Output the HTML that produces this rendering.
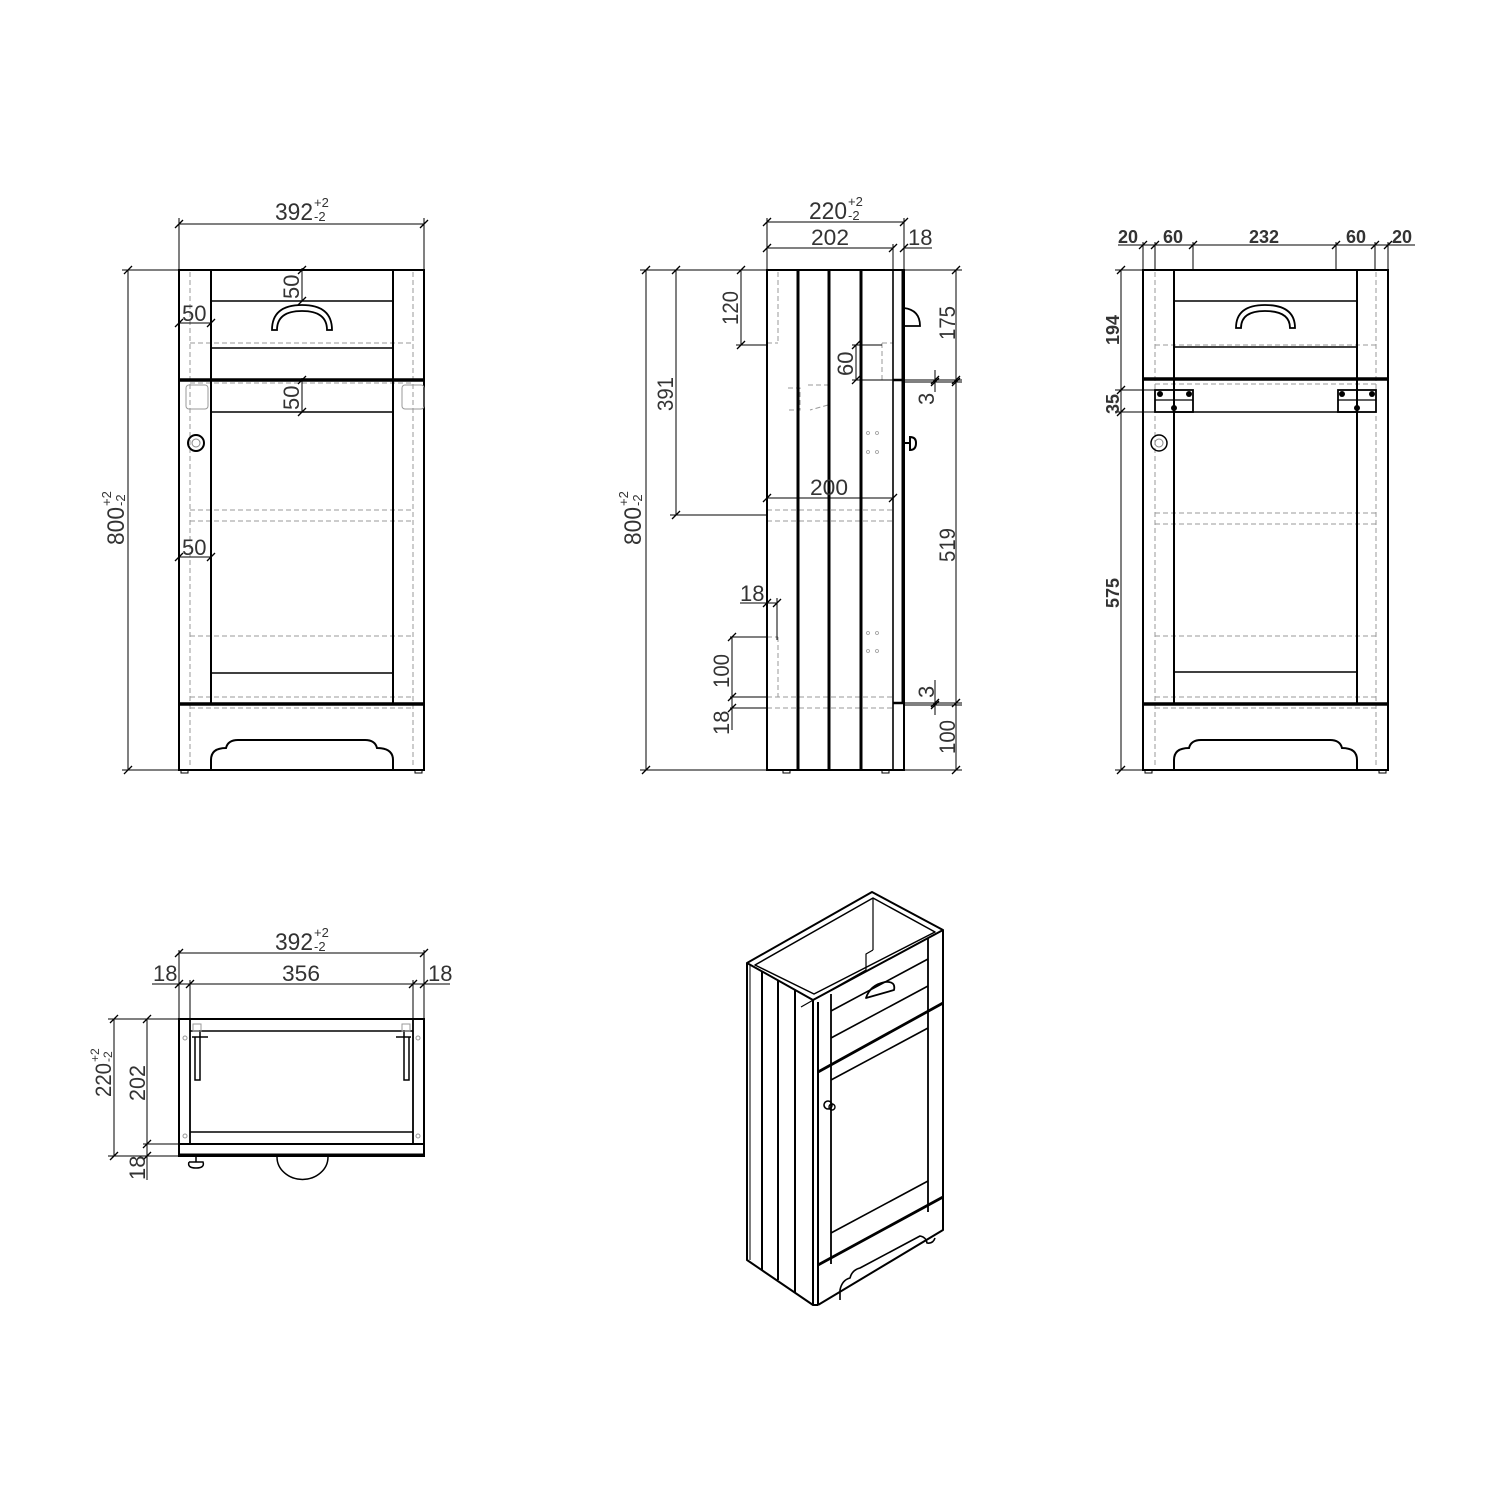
<!DOCTYPE html>
<html><head><meta charset="utf-8"><style>
html,body{margin:0;padding:0;background:#fff;}
svg{display:block;}
text{font-family:"Liberation Sans",sans-serif;fill:#333;}
</style></head><body>
<svg width="1500" height="1500" viewBox="0 0 1500 1500" xmlns="http://www.w3.org/2000/svg">
<defs>
<path id="t" d="M-4,4 L4,-4" stroke="#000" stroke-width="1.3"/>
</defs>
<rect width="1500" height="1500" fill="#fff"/>

<!-- ============ FRONT VIEW ============ -->
<g fill="none" stroke="#000">
  <g stroke="#999" stroke-width="1" stroke-dasharray="5,3">
    <line x1="190" y1="272" x2="190" y2="768"/><line x1="413" y1="272" x2="413" y2="768"/>
    <line x1="190" y1="343" x2="413" y2="343"/><line x1="190" y1="383" x2="413" y2="383"/>
    <line x1="190" y1="510" x2="413" y2="510"/><line x1="190" y1="521" x2="413" y2="521"/>
    <line x1="190" y1="636" x2="413" y2="636"/><line x1="190" y1="697" x2="413" y2="697"/>
    <line x1="190" y1="708" x2="413" y2="708"/>
  </g>
  <rect x="179" y="270" width="245" height="500" stroke-width="2"/>
  <line x1="211" y1="270" x2="211" y2="703" stroke-width="2"/>
  <line x1="393" y1="270" x2="393" y2="703" stroke-width="2"/>
  <line x1="211" y1="301" x2="393" y2="301" stroke-width="1.6"/>
  <line x1="211" y1="348" x2="393" y2="348" stroke-width="1.6"/>
  <line x1="179" y1="380" x2="424" y2="380" stroke-width="3.5"/>
  <line x1="211" y1="412" x2="393" y2="412" stroke-width="1.6"/>
  <line x1="211" y1="673" x2="393" y2="673" stroke-width="1.6"/>
  <line x1="179" y1="704" x2="424" y2="704" stroke-width="3.5"/>
  <path d="M211,770 L211,760 Q211,748 226,748 Q228,740 238,740 L365,740 Q375,740 377,748 Q393,748 393,760 L393,770" stroke-width="2"/>
  <rect x="181" y="770" width="7" height="3" stroke-width="1"/><rect x="415" y="770" width="7" height="3" stroke-width="1"/>
  <path d="M272,330 Q272,305 302,305 Q332,305 332,330 L327,330 Q327,311 302,311 Q277,311 277,330 Z" stroke-width="1.8"/>
  <circle cx="196" cy="443" r="8" stroke-width="2"/><circle cx="196" cy="443" r="4" stroke="#888" stroke-width="1"/>
  <g stroke="#999" stroke-width="1"><rect x="186" y="385" width="22" height="24" rx="3"/><rect x="402" y="385" width="22" height="24" rx="3"/></g>
  <!-- dims -->
  <g stroke-width="1">
    <line x1="179" y1="218" x2="179" y2="270"/><line x1="424" y1="218" x2="424" y2="270"/>
    <line x1="179" y1="224" x2="424" y2="224"/>
    <line x1="122" y1="270" x2="179" y2="270"/><line x1="122" y1="770" x2="179" y2="770"/>
    <line x1="128" y1="270" x2="128" y2="770"/>
    <line x1="302" y1="268" x2="302" y2="301"/><line x1="302" y1="378" x2="302" y2="412"/>
    <line x1="179" y1="323" x2="211" y2="323"/><line x1="179" y1="557" x2="211" y2="557"/>
  </g>
</g>
<g>
  <use href="#t" x="179" y="224"/><use href="#t" x="424" y="224"/>
  <use href="#t" x="128" y="270"/><use href="#t" x="128" y="770"/>
  <use href="#t" x="302" y="270"/><use href="#t" x="302" y="301"/>
  <use href="#t" x="302" y="380"/><use href="#t" x="302" y="412"/>
  <use href="#t" x="179" y="323"/><use href="#t" x="211" y="323"/>
  <use href="#t" x="179" y="557"/><use href="#t" x="211" y="557"/>
</g>
<text x="275" y="220" font-size="24" textLength="38" lengthAdjust="spacingAndGlyphs">392</text>
<text x="314" y="207" font-size="13">+2</text><text x="314" y="221" font-size="13">-2</text>
<g transform="translate(124,545) rotate(-90)"><text x="0" y="0" font-size="24" textLength="38" lengthAdjust="spacingAndGlyphs">800</text><text x="39" y="-13" font-size="13">+2</text><text x="39" y="1" font-size="13">-2</text></g>
<text transform="translate(299,299) rotate(-90)" font-size="22">50</text>
<text transform="translate(299,410) rotate(-90)" font-size="22">50</text>
<text x="182" y="321" font-size="22">50</text>
<text x="182" y="555" font-size="22">50</text>

<!-- ============ SIDE VIEW ============ -->
<g fill="none" stroke="#000">
  <g stroke="#999" stroke-width="1" stroke-dasharray="5,3">
    <line x1="778" y1="272" x2="778" y2="343"/><line x1="767" y1="343" x2="778" y2="343"/>
    <line x1="882" y1="343" x2="893" y2="343"/><line x1="882" y1="343" x2="882" y2="380"/>
    <line x1="767" y1="510" x2="893" y2="510"/><line x1="767" y1="521" x2="893" y2="521"/>
    <line x1="778" y1="637" x2="778" y2="697"/><line x1="767" y1="637" x2="778" y2="637"/>
    <line x1="767" y1="697" x2="893" y2="697"/><line x1="767" y1="708" x2="893" y2="708"/>
    <path d="M788,388 L800,388 L800,410 L788,410 M808,385 L828,385 L828,405 L810,410"/>
  </g>
  <rect x="767" y="270" width="137" height="500" stroke-width="2"/>
  <g stroke-width="3"><line x1="798" y1="270" x2="798" y2="770"/><line x1="829" y1="270" x2="829" y2="770"/><line x1="861" y1="270" x2="861" y2="770"/></g>
  <line x1="893" y1="270" x2="893" y2="770" stroke-width="1.6"/>
  <line x1="903" y1="270" x2="903" y2="703" stroke-width="3"/>
  <line x1="893" y1="380" x2="904" y2="380" stroke-width="2.5"/>
  <line x1="893" y1="703" x2="904" y2="703" stroke-width="2.5"/>
  <path d="M904,308 Q920,310 920,326 L904,326" stroke-width="1.8"/>
  <path d="M904,443 L910,443 M910,437 Q916,437 916,443 Q916,450 910,450 Z" stroke-width="2"/>
  <g stroke="#999" stroke-width="0.8"><circle cx="868" cy="433" r="1.5"/><circle cx="877" cy="433" r="1.5"/><circle cx="868" cy="452" r="1.5"/><circle cx="877" cy="452" r="1.5"/><circle cx="868" cy="633" r="1.5"/><circle cx="877" cy="633" r="1.5"/><circle cx="868" cy="651" r="1.5"/><circle cx="877" cy="651" r="1.5"/></g>
  <rect x="783" y="770" width="7" height="3" stroke-width="1"/><rect x="882" y="770" width="7" height="3" stroke-width="1"/>
  <g stroke-width="1">
    <line x1="767" y1="218" x2="767" y2="270"/><line x1="904" y1="218" x2="904" y2="270"/><line x1="893" y1="244" x2="893" y2="270"/>
    <line x1="767" y1="222" x2="904" y2="222"/>
    <line x1="767" y1="248" x2="893" y2="248"/><line x1="904" y1="248" x2="932" y2="248"/>
    <line x1="640" y1="270" x2="767" y2="270"/><line x1="640" y1="770" x2="767" y2="770"/>
    <line x1="646" y1="270" x2="646" y2="770"/>
    <line x1="676" y1="270" x2="676" y2="515"/><line x1="670" y1="515" x2="767" y2="515"/>
    <line x1="741" y1="270" x2="741" y2="345"/><line x1="736" y1="345" x2="767" y2="345"/>
    <line x1="852" y1="345" x2="882" y2="345"/><line x1="852" y1="380" x2="893" y2="380"/><line x1="856" y1="345" x2="856" y2="380"/>
    <line x1="767" y1="498" x2="893" y2="498"/>
    <line x1="740" y1="603" x2="777" y2="603"/><line x1="777" y1="598" x2="777" y2="640"/>
    <line x1="730" y1="637" x2="767" y2="637"/><line x1="730" y1="697" x2="767" y2="697"/><line x1="730" y1="708" x2="767" y2="708"/>
    <line x1="732" y1="637" x2="732" y2="730"/>
    <line x1="904" y1="270" x2="962" y2="270"/><line x1="904" y1="380" x2="962" y2="380"/><line x1="904" y1="382" x2="962" y2="382"/>
    <line x1="904" y1="703" x2="962" y2="703"/><line x1="904" y1="705" x2="962" y2="705"/><line x1="904" y1="770" x2="962" y2="770"/>
    <line x1="956" y1="270" x2="956" y2="770"/>
    <line x1="935" y1="370" x2="935" y2="392"/><line x1="935" y1="680" x2="935" y2="715"/>
  </g>
</g>
<g>
  <use href="#t" x="767" y="222"/><use href="#t" x="904" y="222"/>
  <use href="#t" x="767" y="248"/><use href="#t" x="893" y="248"/><use href="#t" x="904" y="248"/>
  <use href="#t" x="646" y="270"/><use href="#t" x="646" y="770"/>
  <use href="#t" x="676" y="270"/><use href="#t" x="676" y="515"/>
  <use href="#t" x="741" y="270"/><use href="#t" x="741" y="345"/>
  <use href="#t" x="856" y="345"/><use href="#t" x="856" y="380"/>
  <use href="#t" x="767" y="498"/><use href="#t" x="893" y="498"/>
  <use href="#t" x="767" y="603"/><use href="#t" x="777" y="603"/>
  <use href="#t" x="732" y="637"/><use href="#t" x="732" y="697"/><use href="#t" x="732" y="708"/>
  <use href="#t" x="956" y="270"/><use href="#t" x="956" y="380"/><use href="#t" x="956" y="382"/><use href="#t" x="956" y="703"/><use href="#t" x="956" y="770"/>
  <use href="#t" x="935" y="380"/><use href="#t" x="935" y="382"/><use href="#t" x="935" y="703"/><use href="#t" x="935" y="705"/>
</g>
<text x="809" y="219" font-size="24" textLength="38" lengthAdjust="spacingAndGlyphs">220</text>
<text x="848" y="206" font-size="13">+2</text><text x="848" y="220" font-size="13">-2</text>
<text x="811" y="245" font-size="22" textLength="38" lengthAdjust="spacingAndGlyphs">202</text>
<text x="908" y="245" font-size="22">18</text>
<g transform="translate(641,545) rotate(-90)"><text x="0" y="0" font-size="24" textLength="38" lengthAdjust="spacingAndGlyphs">800</text><text x="39" y="-13" font-size="13">+2</text><text x="39" y="1" font-size="13">-2</text></g>
<text transform="translate(673,411) rotate(-90)" font-size="22" textLength="34" lengthAdjust="spacingAndGlyphs">391</text>
<text transform="translate(738,325) rotate(-90)" font-size="22" textLength="34" lengthAdjust="spacingAndGlyphs">120</text>
<text transform="translate(853,376) rotate(-90)" font-size="22">60</text>
<text x="810" y="495" font-size="22" textLength="38" lengthAdjust="spacingAndGlyphs">200</text>
<text x="740" y="601" font-size="22">18</text>
<text transform="translate(729,688) rotate(-90)" font-size="22" textLength="34" lengthAdjust="spacingAndGlyphs">100</text>
<text transform="translate(729,735) rotate(-90)" font-size="22">18</text>
<text transform="translate(955,340) rotate(-90)" font-size="22" textLength="34" lengthAdjust="spacingAndGlyphs">175</text>
<text transform="translate(934,405) rotate(-90)" font-size="22">3</text>
<text transform="translate(955,562) rotate(-90)" font-size="22" textLength="34" lengthAdjust="spacingAndGlyphs">519</text>
<text transform="translate(934,698) rotate(-90)" font-size="22">3</text>
<text transform="translate(955,754) rotate(-90)" font-size="22" textLength="34" lengthAdjust="spacingAndGlyphs">100</text>

<!-- ============ RIGHT VIEW ============ -->
<g fill="none" stroke="#000">
  <g stroke="#999" stroke-width="1" stroke-dasharray="5,3">
    <line x1="1155" y1="272" x2="1155" y2="768"/><line x1="1376" y1="272" x2="1376" y2="768"/>
    <line x1="1155" y1="345" x2="1376" y2="345"/><line x1="1155" y1="384" x2="1376" y2="384"/>
    <line x1="1155" y1="513" x2="1376" y2="513"/><line x1="1155" y1="524" x2="1376" y2="524"/>
    <line x1="1155" y1="636" x2="1376" y2="636"/><line x1="1155" y1="697" x2="1376" y2="697"/>
    <line x1="1155" y1="708" x2="1376" y2="708"/>
  </g>
  <rect x="1143" y="270" width="245" height="500" stroke-width="2"/>
  <line x1="1174" y1="270" x2="1174" y2="703" stroke-width="2"/>
  <line x1="1357" y1="270" x2="1357" y2="703" stroke-width="2"/>
  <line x1="1174" y1="301" x2="1357" y2="301" stroke-width="1.6"/>
  <line x1="1174" y1="347" x2="1357" y2="347" stroke-width="1.6"/>
  <line x1="1143" y1="379" x2="1388" y2="379" stroke-width="3.5"/>
  <line x1="1174" y1="412" x2="1357" y2="412" stroke-width="1.6"/>
  <line x1="1174" y1="672" x2="1357" y2="672" stroke-width="1.6"/>
  <line x1="1143" y1="704" x2="1388" y2="704" stroke-width="3.5"/>
  <path d="M1174,770 L1174,760 Q1174,748 1189,748 Q1191,740 1201,740 L1330,740 Q1340,740 1342,748 Q1357,748 1357,760 L1357,770" stroke-width="2"/>
  <rect x="1145" y="770" width="7" height="3" stroke-width="1"/><rect x="1379" y="770" width="7" height="3" stroke-width="1"/>
  <path d="M1236,328 Q1236,305 1265,305 Q1295,305 1295,328 L1290,328 Q1290,311 1265,311 Q1241,311 1241,328 Z" stroke-width="1.8"/>
  <circle cx="1159" cy="443" r="8" stroke-width="1.5"/><circle cx="1159" cy="443" r="4" stroke="#888" stroke-width="1"/>
  <rect x="1155" y="390" width="38" height="22" stroke-width="1.8"/><line x1="1155" y1="400" x2="1193" y2="400" stroke-width="1.2"/>
  <rect x="1338" y="390" width="38" height="22" stroke-width="1.8"/><line x1="1338" y1="400" x2="1376" y2="400" stroke-width="1.2"/>
  <g fill="#000" stroke="none"><circle cx="1160" cy="394" r="3"/><circle cx="1189" cy="394" r="3"/><circle cx="1174" cy="408" r="3"/><circle cx="1342" cy="394" r="3"/><circle cx="1372" cy="394" r="3"/><circle cx="1357" cy="408" r="3"/></g>
  <g stroke-width="1">
    <line x1="1143" y1="242" x2="1143" y2="270"/><line x1="1155" y1="242" x2="1155" y2="270"/><line x1="1193" y1="242" x2="1193" y2="270"/>
    <line x1="1336" y1="242" x2="1336" y2="270"/><line x1="1375" y1="242" x2="1375" y2="270"/><line x1="1388" y1="242" x2="1388" y2="270"/>
    <line x1="1118" y1="245" x2="1415" y2="245"/>
    <line x1="1115" y1="270" x2="1143" y2="270"/><line x1="1115" y1="770" x2="1143" y2="770"/>
    <line x1="1115" y1="390" x2="1155" y2="390"/><line x1="1115" y1="412" x2="1155" y2="412"/>
    <line x1="1121" y1="270" x2="1121" y2="770"/>
  </g>
</g>
<g>
  <use href="#t" x="1143" y="245"/><use href="#t" x="1155" y="245"/><use href="#t" x="1193" y="245"/>
  <use href="#t" x="1336" y="245"/><use href="#t" x="1375" y="245"/><use href="#t" x="1388" y="245"/>
  <use href="#t" x="1121" y="270"/><use href="#t" x="1121" y="390"/><use href="#t" x="1121" y="412"/><use href="#t" x="1121" y="770"/>
</g>
<g font-weight="bold">
<text x="1118" y="243" font-size="18">20</text>
<text x="1163" y="243" font-size="18">60</text>
<text x="1249" y="243" font-size="18">232</text>
<text x="1346" y="243" font-size="18">60</text>
<text x="1392" y="243" font-size="18">20</text>
<text transform="translate(1119,345) rotate(-90)" font-size="18">194</text>
<text transform="translate(1119,414) rotate(-90)" font-size="18">35</text>
<text transform="translate(1119,608) rotate(-90)" font-size="18">575</text>
</g>

<!-- ============ TOP VIEW ============ -->
<g fill="none" stroke="#000">
  <rect x="179" y="1019" width="245" height="137" stroke-width="2"/>
  <line x1="190" y1="1019" x2="190" y2="1144" stroke-width="1.8"/>
  <line x1="413" y1="1019" x2="413" y2="1144" stroke-width="1.8"/>
  <line x1="190" y1="1031" x2="413" y2="1031" stroke-width="1.5"/>
  <line x1="190" y1="1132" x2="413" y2="1132" stroke-width="1.5"/>
  <line x1="179" y1="1144" x2="424" y2="1144" stroke-width="2"/>
  <line x1="179" y1="1155" x2="424" y2="1155" stroke-width="3"/>
  <path d="M277,1157 A25,22 0 0 0 328,1157" stroke-width="1.5"/>
  <path d="M192,1037 L208,1037 M200,1030 L200,1080 L195,1080 L195,1037 M411,1037 L396,1037 M404,1030 L404,1080 L409,1080 L409,1037" stroke-width="1.5"/>
  <g stroke="#999" stroke-width="1"><rect x="193" y="1024" width="8" height="7"/><rect x="402" y="1024" width="8" height="7"/>
  <circle cx="185" cy="1038" r="2"/><circle cx="418" cy="1038" r="2"/><circle cx="185" cy="1136" r="2"/><circle cx="418" cy="1136" r="2"/></g>
  <path d="M196,1157 L196,1162 M189,1162 L203,1162 Q205,1168 196,1168 Q187,1168 189,1162" stroke-width="1.5"/>
  <g stroke-width="1">
    <line x1="179" y1="950" x2="179" y2="1019"/><line x1="424" y1="950" x2="424" y2="1019"/>
    <line x1="190" y1="980" x2="190" y2="1019"/><line x1="413" y1="980" x2="413" y2="1019"/>
    <line x1="179" y1="953" x2="424" y2="953"/>
    <line x1="152" y1="984" x2="450" y2="984"/>
    <line x1="108" y1="1019" x2="179" y2="1019"/><line x1="108" y1="1156" x2="179" y2="1156"/><line x1="143" y1="1144" x2="179" y2="1144"/>
    <line x1="114" y1="1019" x2="114" y2="1156"/><line x1="147" y1="1019" x2="147" y2="1180"/>
  </g>
</g>
<g>
  <use href="#t" x="179" y="953"/><use href="#t" x="424" y="953"/>
  <use href="#t" x="179" y="984"/><use href="#t" x="190" y="984"/><use href="#t" x="413" y="984"/><use href="#t" x="424" y="984"/>
  <use href="#t" x="114" y="1019"/><use href="#t" x="114" y="1156"/>
  <use href="#t" x="147" y="1019"/><use href="#t" x="147" y="1144"/><use href="#t" x="147" y="1156"/>
</g>
<text x="275" y="950" font-size="24" textLength="38" lengthAdjust="spacingAndGlyphs">392</text>
<text x="314" y="937" font-size="13">+2</text><text x="314" y="951" font-size="13">-2</text>
<text x="282" y="981" font-size="22" textLength="38" lengthAdjust="spacingAndGlyphs">356</text>
<text x="153" y="981" font-size="22">18</text>
<text x="428" y="981" font-size="22">18</text>
<g transform="translate(111,1097) rotate(-90)"><text x="0" y="0" font-size="22" textLength="34" lengthAdjust="spacingAndGlyphs">220</text><text x="35" y="-12" font-size="12">+2</text><text x="35" y="1" font-size="12">-2</text></g>
<text transform="translate(145,1101) rotate(-90)" font-size="22" textLength="36" lengthAdjust="spacingAndGlyphs">202</text>
<text transform="translate(145,1180) rotate(-90)" font-size="22">18</text>

<!-- ============ ISOMETRIC ============ -->
<g fill="none" stroke="#000" stroke-linejoin="round">
  <!-- top rim -->
  <path d="M747,963 L872,892 L943,930 L813,1000 Z" stroke-width="2"/>
  <path d="M755,965 L873,898 L935,932 L814,994 Z" stroke-width="1.5"/>
  <path d="M873,898 L873,950 M873,950 L866,954 L866,970 L801,1007" stroke-width="1.2"/>
  <!-- side face -->
  <path d="M747,963 L747,1260 L813,1305 L818,1305" stroke-width="2"/>
  <path d="M813,1000 L813,1305 M818,1002 L818,1305" stroke-width="2"/>
  <path d="M762,972 L762,1270 M778,981 L778,1280 M795,990 L795,1292" stroke-width="2"/>
  <path d="M750,965 L750,1260" stroke-width="1"/>
  <!-- front face -->
  <path d="M943,930 L943,1230 L818,1305" stroke-width="2"/>
  <path d="M831,994 L831,1264 M928,938 L928,1212" stroke-width="1.8"/>
  <path d="M831,1011 L928,959" stroke-width="1.6"/>
  <path d="M831,1038 L928,986" stroke-width="1.6"/>
  <path d="M818,1072 L943,1003" stroke-width="2.8"/>
  <path d="M831,1080 L928,1028" stroke-width="1.6"/>
  <path d="M831,1233 L928,1181" stroke-width="1.6"/>
  <path d="M818,1265 L943,1197" stroke-width="2.8"/>
  <path d="M840,1300 L840,1290 Q842,1280 850,1278 Q852,1270 860,1268 L920,1236 Q926,1237 927,1243 Q933,1244 935,1238" stroke-width="1.6"/>
  <path d="M866,998 Q870,985 885,982 Q896,981 894,990 Z" stroke-width="1.8"/>
  <circle cx="828" cy="1105" r="4" stroke-width="1.6"/><circle cx="832" cy="1107" r="3" stroke-width="1.4"/>
</g>
</svg>
</body></html>
